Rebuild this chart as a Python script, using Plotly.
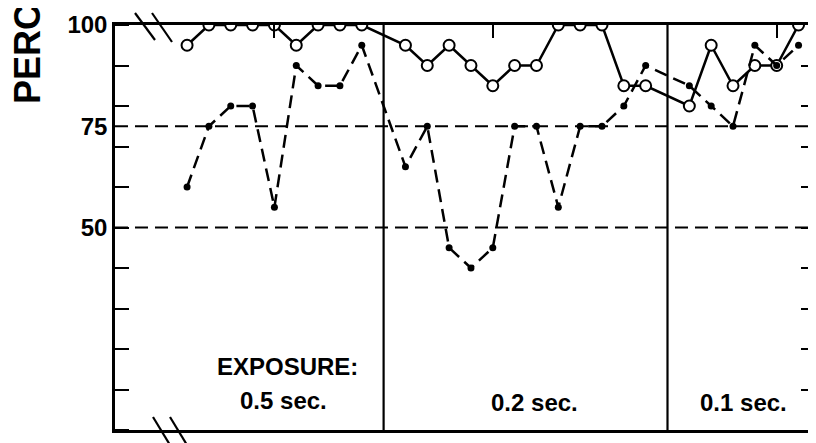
import plotly.graph_objects as go

# ---- data ----
sessions_05 = [1, 2, 3, 4, 5, 6, 7, 8, 9]
open_05 = [95, 100, 100, 100, 100, 95, 100, 100, 100]
filled_05 = [60, 75, 80, 80, 55, 90, 85, 85, 95]

sessions_02 = [11, 12, 13, 14, 15, 16, 17, 18, 19, 20, 21, 22]
open_02 = [95, 90, 95, 90, 85, 90, 90, 100, 100, 100, 85, 85]
filled_02 = [65, 75, 45, 40, 45, 75, 75, 55, 75, 75, 80, 90]

sessions_01 = [24, 25, 26, 27, 28, 29]
open_01 = [80, 95, 85, 90, 90, 100]
filled_01 = [85, 80, 75, 95, 90, 95]

separators = [10, 23]
ref_levels = [75, 50]
ytick_vals = [0, 50, 75, 100]
ytick_text = ["0", "50", "75", "100"]
right_ticks = [10, 20, 30, 40, 50, 60, 70, 80, 90]
top_ticks = [5, 15, 28]
exposure_labels = [("EXPOSURE:", 5.6, 15.6), ("0.5 sec.", 5.4, 7.4),
                   ("0.2 sec.", 16.9, 6.9), ("0.1 sec.", 26.5, 6.9)]

xs = sessions_05 + sessions_02 + sessions_01
open_all = open_05 + open_02 + open_01
filled_all = filled_05 + filled_02 + filled_01

XR = [-2.3, 29.8]
FONT = "Liberation Sans"
LW = 2.5

# page body has an 8px default margin; the figure is sized/offset to compensate
W, H = 808, 435
ML, MR, MT, MB = 107, 0, 17, 13
PW = W - ML - MR
PH = H - MT - MB
OFF = 8  # page offset


fig = go.Figure()

fig.add_trace(go.Scatter(
    x=xs, y=open_all, mode="lines+markers",
    line=dict(color="black", width=LW),
    marker=dict(symbol="circle", size=11, color="white",
                line=dict(color="black", width=2)),
    showlegend=False, hoverinfo="skip"))

fig.add_trace(go.Scatter(
    x=xs, y=filled_all, mode="lines+markers",
    line=dict(color="black", width=LW, dash="13px,7px"),
    marker=dict(symbol="circle", size=7, color="black"),
    showlegend=False, hoverinfo="skip"))

# invisible trace to activate the top / right mirror axes
fig.add_trace(go.Scatter(
    x=top_ticks, y=[100] * len(top_ticks), xaxis="x2", yaxis="y2",
    mode="markers", marker=dict(opacity=0, size=1),
    showlegend=False, hoverinfo="skip"))

for lv in ref_levels:
    fig.add_hline(y=lv, line=dict(color="black", width=2.2, dash="13px,7px"),
                  layer="below")
for sx in separators:
    fig.add_vline(x=sx, line=dict(color="black", width=2.2), layer="below")


# axis-break marks (positions given in page pixels)
def xd(px):
    return XR[0] + (px - OFF - ML) / PW * (XR[1] - XR[0])


def yp(py):
    return (H - MB - (py - OFF)) / PH


for (x0, y0, x1, y1) in [(135, 13, 155, 40), (152, 13, 172, 42),
                         (153, 417, 170, 445), (170, 417, 187, 445)]:
    fig.add_shape(type="line", xref="x", yref="paper",
                  x0=xd(x0), y0=yp(y0), x1=xd(x1), y1=yp(y1),
                  line=dict(color="black", width=2.2))

for txt, x, y in exposure_labels:
    fig.add_annotation(x=x, y=y, xref="x", yref="y", text=txt,
                       showarrow=False,
                       font=dict(family=FONT, size=24, color="black", weight="bold"))

fig.add_annotation(x=(28 - OFF - ML) / PW, y=yp(106), xref="paper", yref="paper",
                   text="PERCENT CORRECT", textangle=-90, showarrow=False,
                   xanchor="center", yanchor="bottom",
                   font=dict(family=FONT, size=36, color="black", weight="bold"))

fig.update_layout(
    width=W, height=H,
    margin=dict(l=ML, r=MR, t=MT, b=MB),
    paper_bgcolor="white", plot_bgcolor="white",
    xaxis=dict(range=XR, showline=True, linecolor="black", linewidth=LW,
               showgrid=False, zeroline=False, showticklabels=False, ticks=""),
    xaxis2=dict(range=XR, overlaying="x", side="top", anchor="y",
                showline=True, linecolor="black", linewidth=LW,
                tickvals=top_ticks, ticks="inside", ticklen=13, tickwidth=2,
                tickcolor="black", showticklabels=False, showgrid=False,
                zeroline=False),
    yaxis=dict(range=[0, 100], showline=True, linecolor="black", linewidth=LW,
               showgrid=False, zeroline=False, tickvals=ytick_vals,
               ticktext=ytick_text, ticks="",
               tickfont=dict(family=FONT, size=24, color="black", weight="bold"),
               minor=dict(ticks="inside", ticklen=14, tickwidth=2.2,
                          tickcolor="black", dtick=10, tick0=0)),
    yaxis2=dict(range=[0, 100], overlaying="y", side="right", anchor="x",
                showline=False, showgrid=False, zeroline=False,
                tickvals=right_ticks, ticks="inside", ticklen=15, tickwidth=2.2,
                tickcolor="black", showticklabels=False),
)

fig.write_html("out.html")
